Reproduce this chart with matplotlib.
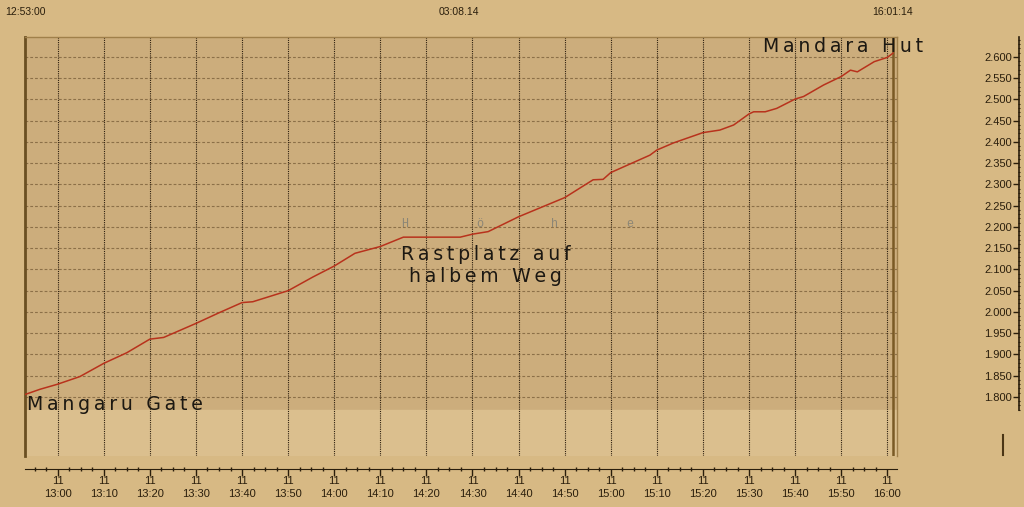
import matplotlib
matplotlib.use("Agg")
import matplotlib.pyplot as plt
import matplotlib.dates as mdates
import matplotlib.transforms as mtransforms
from matplotlib.ticker import MultipleLocator
import pandas as pd

# --- data -------------------------------------------------------------
day = "2014-08-03"
times = ["12:53:00", "12:56:10", "13:00:00", "13:04:50", "13:10:00", "13:15:00",
         "13:20:00", "13:23:00", "13:30:00", "13:35:00", "13:40:00", "13:42:20",
         "13:50:00", "13:55:20", "14:00:00", "14:04:30", "14:10:00", "14:15:00",
         "14:27:20", "14:30:00", "14:33:24", "14:40:00", "14:50:00", "14:56:10",
         "14:58:20", "15:00:00", "15:08:30", "15:10:00", "15:13:40", "15:20:00",
         "15:23:40", "15:26:40", "15:30:00", "15:31:00", "15:33:30", "15:36:00",
         "15:40:00", "15:41:50", "15:46:10", "15:50:00", "15:52:00", "15:53:30",
         "15:57:10", "16:00:00", "16:01:14"]
elevation = [1806, 1818, 1830, 1848, 1879, 1904,
             1936, 1940, 1973, 1998, 2022, 2024,
             2050, 2082, 2108, 2138, 2154, 2176,
             2176, 2183, 2189, 2224, 2269, 2311,
             2312, 2328, 2369, 2381, 2398, 2422,
             2428, 2440, 2466, 2471, 2471, 2479,
             2501, 2507, 2534, 2554, 2569, 2565,
             2589, 2599, 2609]

tick_times = ["13:00", "13:10", "13:20", "13:30", "13:40", "13:50", "14:00",
              "14:10", "14:20", "14:30", "14:40", "14:50", "15:00", "15:10",
              "15:20", "15:30", "15:40", "15:50", "16:00"]
tick_day = "11"
y_ticks = [1800, 1850, 1900, 1950, 2000, 2050, 2100, 2150, 2200, 2250,
           2300, 2350, 2400, 2450, 2500, 2550, 2600]

start_label = "12:53:00"
date_label = "03:08.14"
end_label = "16:01:14"
title = "Höhe"
start_place = "Mangaru Gate"
mid_place = "Rastplatz auf\nhalbem Weg"
end_place = "Mandara Hut"

# --- style ------------------------------------------------------------
BG = "#d7b984"
PLOT = "#ccad7c"
BAND = "#dbbf8e"
DARK = "#2a1e0c"
LINE = "#b8321c"

t = pd.to_datetime([f"{day} {s}" for s in times])
t0, t1 = t[0], t[-1]
x_right = t0 + pd.Timedelta(minutes=189.1)
y_low, y_axis_low, y_top = 1661, 1769.4, 2647


def spaced(s):
    return "\n".join("\u2009".join(line) for line in s.split("\n"))


fig = plt.figure(figsize=(10.24, 5.07), dpi=100, facecolor=BG)
ax = fig.add_axes([25.4 / 1024, 51 / 507, (897 - 25.4) / 1024, 419 / 507])
ax.set_facecolor(PLOT)
ax.set_xlim(t0, x_right)
ax.set_ylim(y_low, y_top)
ax.axhspan(y_low, y_axis_low, color=BAND, zorder=0)

# grid
ax.hlines(y_ticks, t0, x_right, colors="#8c7048", linewidth=0.8,
          linestyles=(0, (2.5, 1.8)), zorder=1)
major = pd.to_datetime([f"{day} {s}" for s in tick_times])
ax.set_xticks(major)
ax.set_xticklabels([f"{tick_day}\n{s}" for s in tick_times])
minor = pd.date_range(t0 + pd.Timedelta(minutes=2), x_right, freq="150s")
ax.set_xticks(minor, minor=True)
ax.grid(axis="x", which="major", color="#2e2010", linewidth=0.8,
        linestyle=(0, (1, 1)), zorder=1)
ax.set_yticks([])

ax.plot(t, elevation, color=LINE, linewidth=1.1, zorder=3)
ax.axvline(t1, color="#7a5a25", linewidth=1.8, zorder=2)

for side in ["top", "right"]:
    ax.spines[side].set_color("#a0804a")
    ax.spines[side].set_linewidth(1)
ax.spines["left"].set_color("#6a4f22")
ax.spines["left"].set_linewidth(2)
ax.spines["bottom"].set_position(("outward", 9))
ax.spines["bottom"].set_color(DARK)
ax.tick_params(axis="x", which="major", length=5, width=1, color=DARK,
               labelcolor=DARK, labelsize=8, pad=0.5)
ax.tick_params(axis="x", which="minor", length=2.5, width=1, color=DARK,
               direction="inout")
for lab in ax.get_xticklabels():
    lab.set_fontfamily("Liberation Sans")
    lab.set_linespacing(1.3)

# y axis drawn apart on the far right
ay = fig.add_axes([1019 / 1024, 97 / 507, 0.0005, 373 / 507])
ay.patch.set_visible(False)
ay.set_ylim(y_axis_low, y_top)
for side in ["top", "right", "bottom"]:
    ay.spines[side].set_visible(False)
ay.spines["left"].set_color(DARK)
ay.spines["left"].set_linewidth(1.2)
ay.set_xticks([])
ay.set_yticks(y_ticks)
ay.set_yticklabels([f"{v / 1000:.3f}" for v in y_ticks])
ay.yaxis.set_minor_locator(MultipleLocator(10))
ay.tick_params(axis="y", which="major", length=4.5, width=1, color=DARK,
               labelcolor=DARK, labelsize=8, pad=0.5)
ay.tick_params(axis="y", which="minor", length=2, width=0.8, color=DARK,
               direction="inout")
for lab in ay.get_yticklabels():
    lab.set_fontfamily("Liberation Sans")

# header labels
top_tr = mtransforms.blended_transform_factory(ax.transData, fig.transFigure)
mid_time = t0 + (t1 - t0) / 2
for x, s in [(t0, start_label), (mid_time, date_label), (t1, end_label)]:
    ax.text(x, 0.976, s, transform=top_tr, ha="center", va="center",
            fontsize=7.5, color=DARK, family="Liberation Sans")

# place names
big = dict(fontsize=13.6, color="#1c1812", family="DejaVu Sans", clip_on=False,
           zorder=5)
ax.text(t0 + pd.Timedelta(seconds=20), y_axis_low, spaced(start_place),
        ha="left", va="baseline", **big)
ax.text(t0 + pd.Timedelta(minutes=160), 2611.8, spaced(end_place),
        ha="left", va="baseline", **big)
ax.text(t0 + pd.Timedelta(minutes=99.9), 2157, spaced(mid_place),
        ha="center", va="top", multialignment="center", linespacing=1.2, **big)

# spread-out title letters
for i, ch in enumerate(title):
    ax.text(t0 + pd.Timedelta(minutes=82.3 + 16.3 * i), 2207, ch,
            ha="center", va="center", fontsize=8.5, color="#8c8676",
            family="Liberation Mono", zorder=4)

fig.add_artist(plt.Line2D([1003 / 1024, 1003 / 1024], [52 / 507, 72 / 507],
                          color="#4a3515", linewidth=1.5))

fig.savefig("out.png", dpi=100, facecolor=BG)
